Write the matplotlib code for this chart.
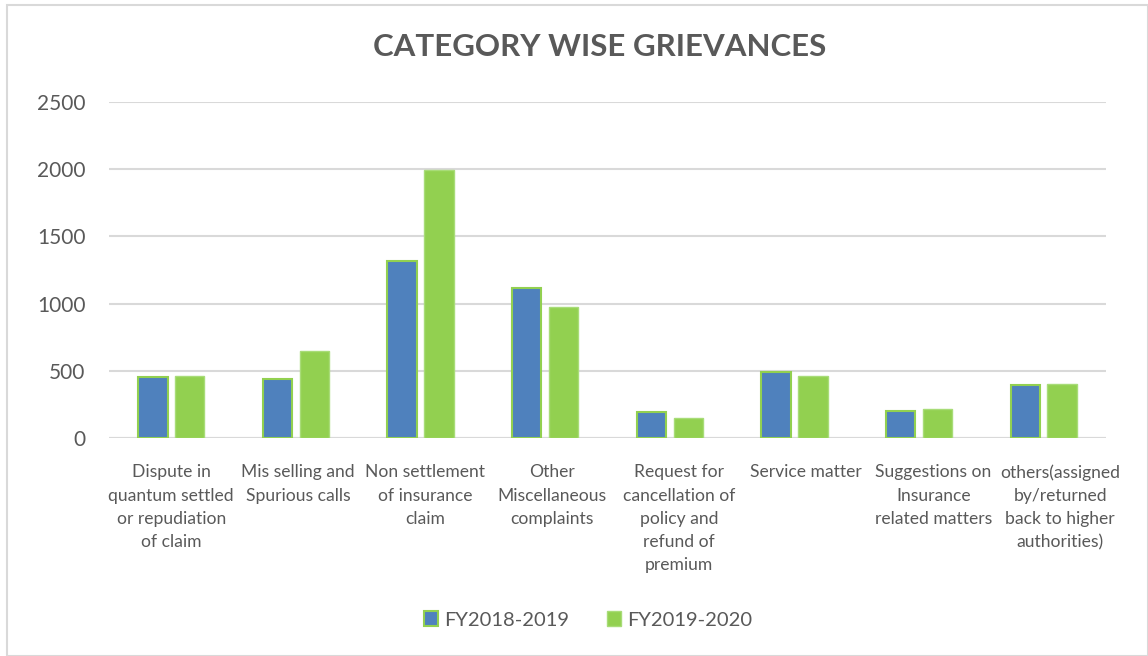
import numpy as np
import matplotlib.pyplot as plt
from matplotlib.patches import Rectangle

plt.rcParams['font.family'] = ['Lato', 'DejaVu Sans']

categories = [
    "Dispute in\nquantum settled\nor repudiation\nof claim",
    "Mis selling and\nSpurious calls",
    "Non settlement\nof insurance\nclaim",
    "Other\nMiscellaneous\ncomplaints",
    "Request for\ncancellation of\npolicy and\nrefund of\npremium",
    "Service matter",
    "Suggestions on\nInsurance\nrelated matters",
    "others(assigned\nby/returned\nback to higher\nauthorities)",
]
fy2018 = [452, 437, 1318, 1114, 197, 490, 204, 391]
fy2019 = [463, 651, 1995, 972, 152, 458, 214, 401]
series_names = ["FY2018-2019", "FY2019-2020"]

grey = '#595959'
blue = '#4F81BD'
green = '#92D050'

fig = plt.figure(figsize=(11.48, 6.56), dpi=100)
ax = fig.add_axes([109 / 1148, 1 - 438 / 656, (1106 - 109) / 1148, (438 - 102) / 656])

x = np.arange(len(categories))
w = 0.235
ax.bar(x - 0.148, fy2018, w, color=blue, edgecolor=green, linewidth=1.5,
       label=series_names[0], zorder=3)
ax.bar(x + 0.148, fy2019, w, color=green, edgecolor='#A8DC78', linewidth=1,
       label=series_names[1], zorder=3)

ax.set_xlim(-0.5, len(categories) - 0.5)
ax.set_ylim(0, 2500)
ax.set_yticks(np.arange(0, 2501, 500))
ax.yaxis.grid(True, color='#D9D9D9', linewidth=1.5, zorder=0)
ax.set_axisbelow(True)
for s in ax.spines.values():
    s.set_visible(False)
ax.tick_params(axis='y', length=0, labelsize=15, labelcolor=grey, pad=17)
ax.tick_params(axis='x', length=0, labelsize=12.6, labelcolor=grey, pad=19)
# labels in the original spread a little wider than the bars
ax.set_xticks(x * 1.019)
ax.set_xticklabels(categories, linespacing=1.55, va='top')
ax.axhline(0, color='#D9D9D9', linewidth=1.5, zorder=1)

fig.text(600 / 1148, 1 - 47 / 656, "CATEGORY WISE GRIEVANCES", ha='center', va='center',
         fontsize=22.5, fontweight='bold', color=grey)

leg = fig.legend(loc='center', bbox_to_anchor=(588 / 1148, 1 - 620 / 656), ncol=2,
                 frameon=False, fontsize=14.5, labelcolor=grey, handlelength=0.7,
                 handleheight=0.7, handletextpad=0.3, columnspacing=1.9)

# outer chart border
fig.patches.append(Rectangle((7 / 1148, 0), 1 - 7 / 1148, 1 - 5 / 656, transform=fig.transFigure,
                             fill=False, edgecolor='#D9D9D9', linewidth=1.5))

fig.savefig('out.png', dpi=100)
